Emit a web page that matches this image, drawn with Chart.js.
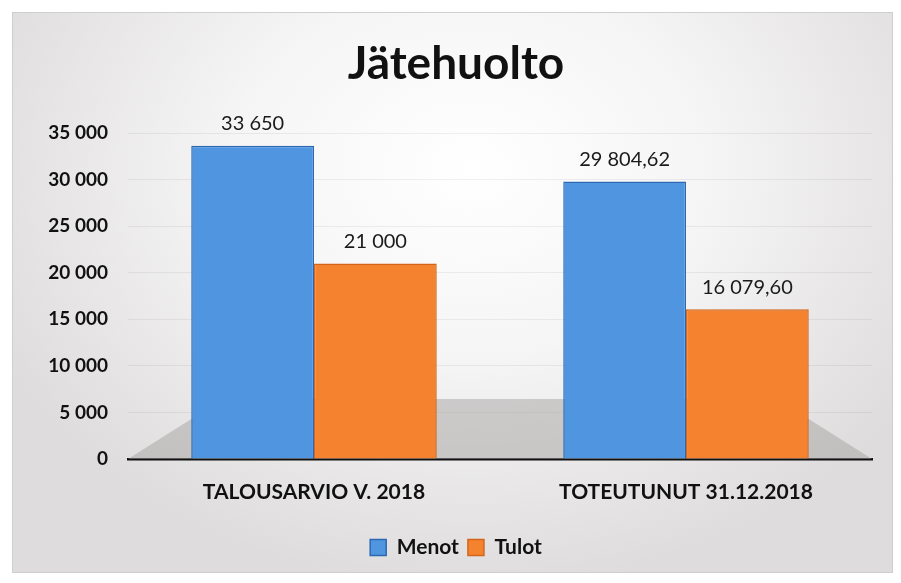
<!DOCTYPE html>
<html>
<head>
<meta charset="utf-8">
<title>Jätehuolto</title>
<script src="https://cdn.jsdelivr.net/npm/chart.js@4.4.1/dist/chart.umd.min.js"></script>
<style>
  html, body { margin: 0; padding: 0; background: #fff; }
  #frame {
    position: absolute; left: 12px; top: 12px; width: 879px; height: 559px;
    border: 1px solid #cfcfcf;
    background: radial-gradient(ellipse 60% 75% at 52% 28%, #ffffff 0%, #f6f5f5 45%, #dedcdc 100%);
  }
  #wrap { position: absolute; left: 0; top: 0; width: 901px; height: 583px; }
</style>
</head>
<body>
<div id="frame"></div>
<div id="wrap"><canvas id="chart" width="901" height="583"></canvas></div>
<script>
// Data
const categories = ['TALOUSARVIO V. 2018', 'TOTEUTUNUT 31.12.2018'];
const menot = [33650, 29804.62];
const tulot = [21000, 16079.60];
const yMax = 35000;
const yStep = 5000;

const FONT = 'Lato, "Open Sans", sans-serif';

// Suomalainen numeromuoto: 29 804,62
function fmt(v) {
  const isInt = Number.isInteger(v);
  const parts = v.toFixed(isInt ? 0 : 2).split('.');
  const whole = parts[0].replace(/\B(?=(\d{3})+(?!\d))/g, ' ');
  return parts[1] ? whole + ',' + parts[1] : whole;
}

// Harmaa "lattia" kuvaajan alareunaan
const floor = {
  id: 'floor',
  beforeDatasetsDraw(chart) {
    const a = chart.chartArea;
    const ctx = chart.ctx;
    const h = 60;
    ctx.save();
    ctx.fillStyle = 'rgba(165,162,162,0.5)';
    ctx.beginPath();
    ctx.moveTo(a.left, a.bottom);
    ctx.lineTo(a.left + 95, a.bottom - h);
    ctx.lineTo(a.right - 95, a.bottom - h);
    ctx.lineTo(a.right, a.bottom);
    ctx.closePath();
    ctx.fill();
    ctx.restore();
  }
};

// Arvot pylväiden yläpuolelle
const valueLabels = {
  id: 'valueLabels',
  afterDatasetsDraw(chart) {
    const ctx = chart.ctx;
    ctx.save();
    ctx.font = '20px ' + FONT;
    ctx.fillStyle = '#1a1a1a';
    ctx.textAlign = 'center';
    ctx.textBaseline = 'bottom';
    chart.data.datasets.forEach((ds, i) => {
      chart.getDatasetMeta(i).data.forEach((bar, j) => {
        ctx.fillText(fmt(ds.data[j]), bar.x, bar.y - 12);
      });
    });
    ctx.restore();
  }
};

const ctx = document.getElementById('chart').getContext('2d');
new Chart(ctx, {
  type: 'bar',
  data: {
    labels: categories,
    datasets: [
      {
        label: 'Menot',
        data: menot,
        backgroundColor: '#4f95df',
        borderColor: '#2c68b4',
        borderWidth: 1.5
      },
      {
        label: 'Tulot',
        data: tulot,
        backgroundColor: '#f5822f',
        borderColor: '#d4661b',
        borderWidth: 1.5
      }
    ]
  },
  options: {
    responsive: false,
    animation: false,
    layout: { padding: { left: 40, right: 29, top: 0, bottom: 15 } },
    datasets: { bar: { barPercentage: 1, categoryPercentage: 0.66 } },
    scales: {
      y: {
        min: 0,
        max: yMax,
        ticks: {
          stepSize: yStep,
          padding: 20,
          color: '#111',
          font: { family: FONT, size: 19, weight: 'bold' },
          callback: v => fmt(v)
        },
        grid: { color: 'rgba(0,0,0,0.06)', drawTicks: false },
        border: { display: false },
        afterFit: s => { s.width = 88; }
      },
      x: {
        ticks: {
          padding: 13,
          color: '#111',
          font: { family: FONT, size: 21, weight: 'bold' }
        },
        grid: { display: false },
        border: { color: '#111', width: 2.5 },
        afterFit: s => { s.height = 69; }
      }
    },
    plugins: {
      title: {
        display: true,
        text: 'Jätehuolto',
        color: '#111',
        font: { family: FONT, size: 46, weight: 'bold' },
        padding: { top: 37, bottom: 41 }
      },
      legend: {
        position: 'bottom',
        labels: {
          color: '#111',
          boxWidth: 16,
          boxHeight: 16,
          padding: 9,
          font: { family: FONT, size: 21, weight: 'bold' }
        }
      },
      tooltip: { enabled: false }
    }
  },
  plugins: [floor, valueLabels]
});
</script>
</body>
</html>
